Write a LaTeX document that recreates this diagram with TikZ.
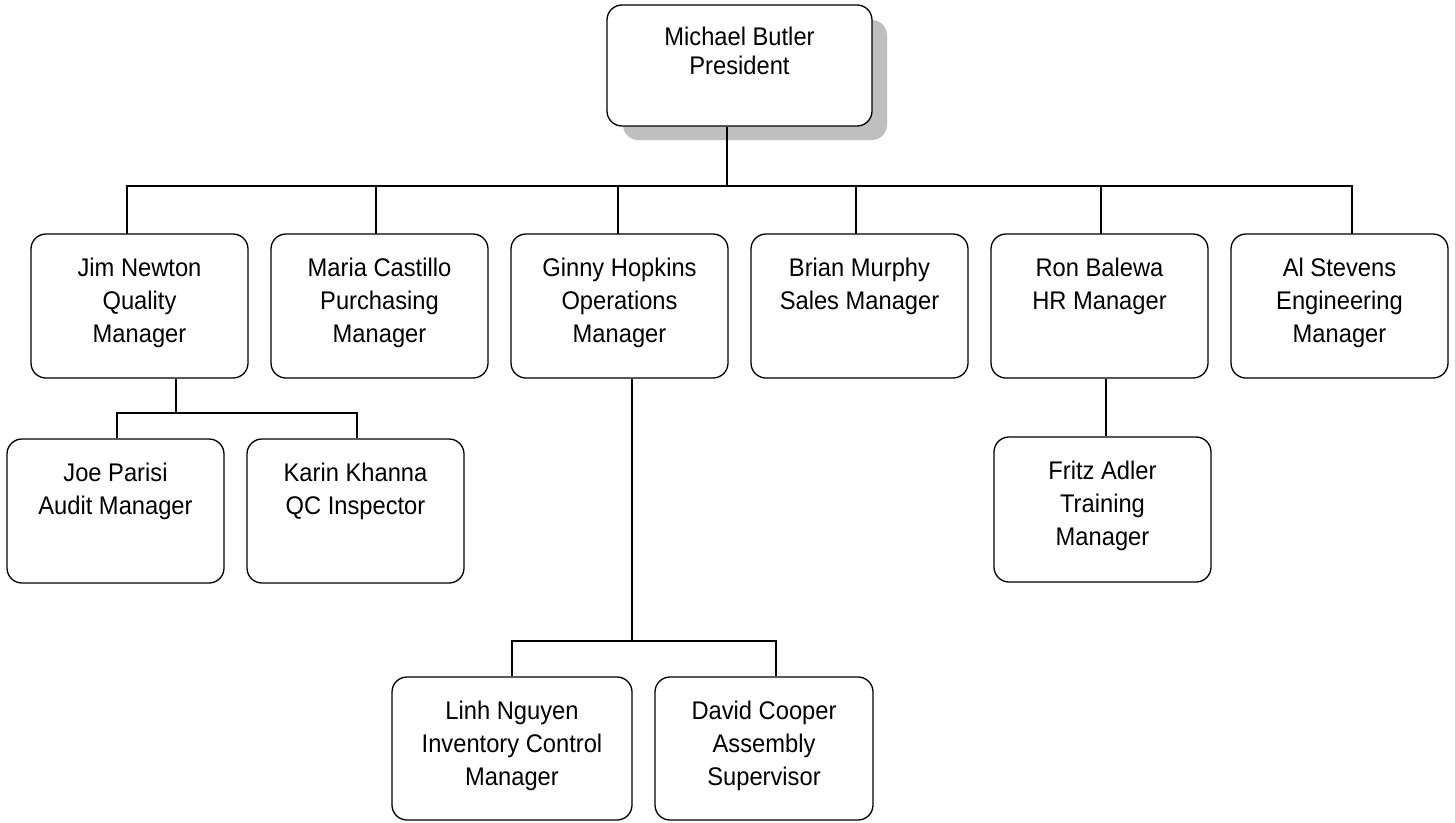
\documentclass[tikz,border=0pt]{standalone}
\usepackage{fontspec}
\setmainfont[FakeStretch=0.93]{Liberation Sans}
\begin{document}
\begin{tikzpicture}[x=1pt,y=-1pt,
  box/.style={draw=black,line width=1.3pt,rounded corners=15pt,fill=white,inner sep=0pt},
  txt/.style={anchor=north,align=center,inner sep=0pt,font=\fontsize{25.5}{33}\selectfont},
  link/.style={draw=black,line width=1.3pt}]
\useasboundingbox (0,0) rectangle (1455,822);
% president with shadow
\fill[black!25,rounded corners=15pt] (623,20) rectangle (887,140);
\node[box,minimum width=265pt,minimum height=121pt] (pres) at (739.5,65.5) {};
\node[txt,font=\fontsize{25.5}{29}\selectfont] (prest) at ([yshift=-22pt]pres.north) {Michael Butler\\President};
% second row
\node[box,minimum width=217pt,minimum height=144pt] (jim) at (139.5,306) {};
\node[box,minimum width=217pt,minimum height=144pt] (maria) at (379.5,306) {};
\node[box,minimum width=217pt,minimum height=144pt] (ginny) at (619.5,306) {};
\node[box,minimum width=217pt,minimum height=144pt] (brian) at (859.5,306) {};
\node[box,minimum width=217pt,minimum height=144pt] (ron) at (1099.5,306) {};
\node[box,minimum width=217pt,minimum height=144pt] (al) at (1339.5,306) {};
\node[txt] (jimt) at ([yshift=-24.5pt]jim.north) {Jim Newton\\Quality\\Manager};
\node[txt] (mariat) at ([yshift=-24.5pt]maria.north) {Maria Castillo\\Purchasing\\Manager};
\node[txt] (ginnyt) at ([yshift=-24.5pt]ginny.north) {Ginny Hopkins\\Operations\\Manager};
\node[txt] (briant) at ([yshift=-24.5pt]brian.north) {Brian Murphy\\Sales Manager};
\node[txt] (ront) at ([yshift=-24.5pt]ron.north) {Ron Balewa\\HR Manager};
\node[txt] (alt) at ([yshift=-24.5pt]al.north) {Al Stevens\\Engineering\\Manager};
% third row
\node[box,minimum width=217pt,minimum height=144pt] (joe) at (115.5,511) {};
\node[box,minimum width=217pt,minimum height=144pt] (karin) at (355.5,511) {};
\node[box,minimum width=217pt,minimum height=145pt] (fritz) at (1102.5,509.5) {};
\node[txt] (joet) at ([yshift=-24.5pt]joe.north) {Joe Parisi\\Audit Manager};
\node[txt] (karint) at ([yshift=-24.5pt]karin.north) {Karin Khanna\\QC Inspector};
\node[txt] (fritzt) at ([yshift=-24.5pt]fritz.north) {Fritz Adler\\Training\\Manager};
% fourth row
\node[box,minimum width=240pt,minimum height=143pt] (linh) at (512,748.5) {};
\node[box,minimum width=218pt,minimum height=143pt] (david) at (764,748.5) {};
\node[txt] (linht) at ([yshift=-24.5pt]linh.north) {Linh Nguyen\\Inventory Control\\Manager};
\node[txt] (davidt) at ([yshift=-24.5pt]david.north) {David Cooper\\Assembly\\Supervisor};
% connectors
\coordinate (bus) at (727,186);
\draw[link] (pres.south -| bus) -- (bus);
\draw[link] (127,234) |- (bus) -| (1352,234);
\draw[link] (376,186) -- (376,234);
\draw[link] (618,186) -- (618,234);
\draw[link] (856,186) -- (856,234);
\draw[link] (1101,186) -- (1101,234);
\coordinate (jb) at (176,413);
\draw[link] (jim.south -| jb) -- (jb);
\draw[link] (joe.north -| 117,0) |- (jb) -| (karin.north -| 357,0);
\coordinate (gb) at (632,641);
\draw[link] (ginny.south -| gb) -- (gb);
\draw[link] (linh.north -| 512,0) |- (gb) -| (david.north -| 776,0);
\draw[link] (ron.south -| 1106,0) -- (fritz.north -| 1106,0);
\end{tikzpicture}
\end{document}
